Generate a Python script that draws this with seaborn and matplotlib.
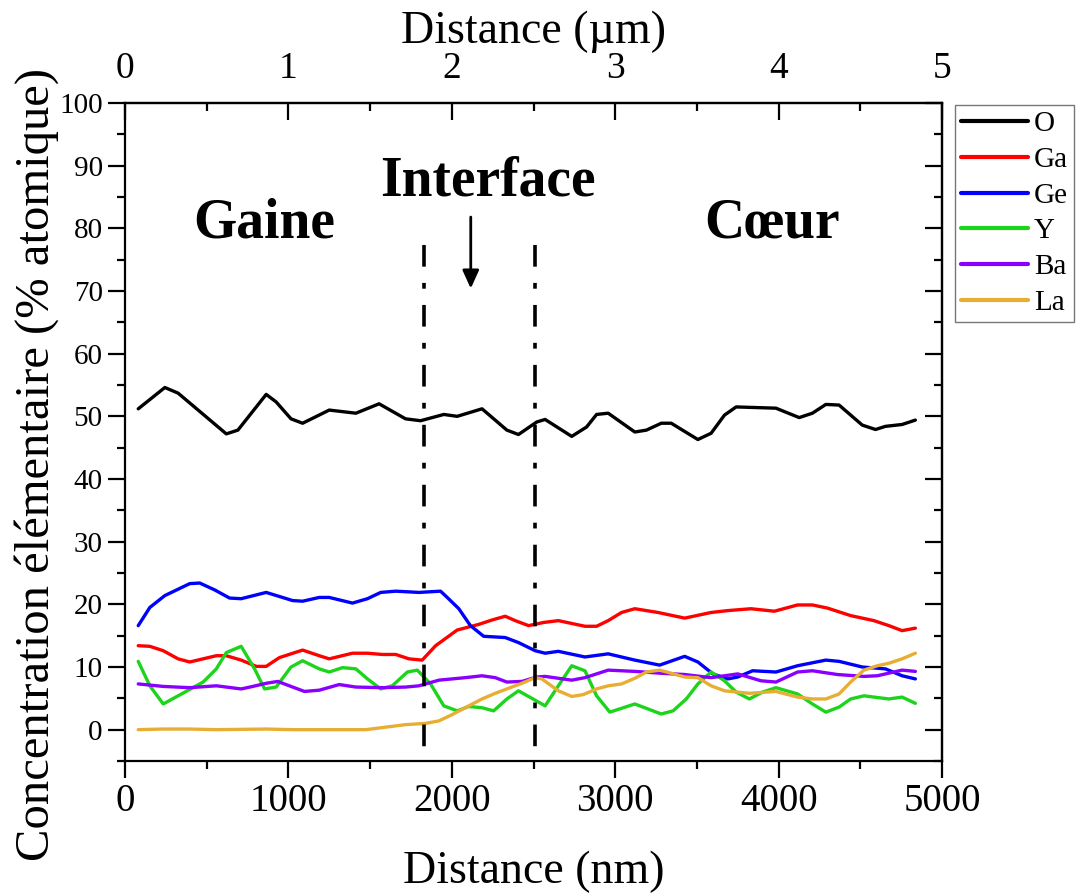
import pandas as pd
import seaborn as sns
import matplotlib.pyplot as plt
from matplotlib.ticker import MultipleLocator

# profil EDX le long de la ligne (distance en nm, concentration en % atomique)
elements = ["O", "Ga", "Ge", "Y", "Ba", "La"]

x_O = [81, 244, 325, 620, 691, 864, 925, 1016, 1087, 1250, 1413, 1555, 1717, 1809, 1951,
       2033, 2185, 2337, 2408, 2520, 2571, 2734, 2825, 2886, 2957, 3120, 3191, 3282, 3343,
       3506, 3587, 3669, 3740, 3984, 4126, 4207, 4289, 4370, 4512, 4593, 4654, 4756, 4837]
O = [51.2, 54.6, 53.7, 47.2, 47.8, 53.5, 52.3, 49.6, 48.9, 51.0, 50.5, 52.0, 49.6, 49.3, 50.3,
     50.0, 51.2, 47.8, 47.1, 49.1, 49.5, 46.8, 48.3, 50.3, 50.5, 47.5, 47.8, 48.9, 48.9,
     46.3, 47.3, 50.2, 51.5, 51.3, 49.8, 50.5, 51.9, 51.8, 48.6, 47.9, 48.4, 48.7, 49.4]

x_Ga = [81, 152, 234, 325, 396, 559, 620, 711, 803, 864, 945, 1087, 1189, 1250, 1392, 1484,
        1575, 1657, 1738, 1819, 1901, 2033, 2165, 2246, 2327, 2388, 2470, 2560, 2652, 2815,
        2886, 2957, 3039, 3120, 3262, 3425, 3587, 3689, 3831, 3974, 4116, 4207, 4299, 4441,
        4583, 4675, 4756, 4837]
Ga = [13.4, 13.3, 12.6, 11.3, 10.8, 11.8, 11.8, 11.1, 10.1, 10.1, 11.5, 12.7, 11.8, 11.3, 12.2, 12.2,
      12.0, 12.0, 11.3, 11.1, 13.4, 15.9, 16.8, 17.5, 18.1, 17.4, 16.6, 17.1, 17.4, 16.5,
      16.5, 17.4, 18.7, 19.3, 18.7, 17.8, 18.7, 19.0, 19.3, 18.9, 19.9, 19.9, 19.4, 18.2,
      17.4, 16.6, 15.8, 16.2]

x_Ge = [81, 152, 244, 396, 457, 549, 640, 711, 864, 1026, 1087, 1189, 1250, 1392, 1484, 1565,
        1657, 1799, 1931, 1972, 2043, 2114, 2195, 2327, 2408, 2510, 2571, 2652, 2815, 2957,
        3120, 3272, 3425, 3506, 3598, 3689, 3750, 3841, 3984, 4116, 4289, 4370, 4512, 4654,
        4756, 4837]
Ge = [16.6, 19.5, 21.4, 23.3, 23.4, 22.3, 21.0, 20.9, 21.9, 20.6, 20.5, 21.1, 21.1, 20.2, 20.9, 21.9,
      22.1, 21.9, 22.1, 21.1, 19.3, 16.6, 14.9, 14.7, 13.9, 12.6, 12.2, 12.5, 11.6, 12.1,
      11.1, 10.3, 11.7, 10.8, 8.9, 8.1, 8.4, 9.4, 9.2, 10.2, 11.1, 10.9, 10.0, 9.7,
      8.6, 8.1]

x_Y = [81, 152, 234, 325, 478, 559, 620, 711, 793, 854, 925, 1016, 1087, 1189, 1250, 1331,
       1413, 1484, 1565, 1636, 1728, 1789, 1870, 1951, 2033, 2104, 2185, 2256, 2337, 2408,
       2490, 2571, 2652, 2734, 2815, 2886, 2967, 3120, 3282, 3354, 3435, 3506, 3587, 3669,
       3740, 3821, 3902, 3984, 4116, 4207, 4289, 4370, 4441, 4522, 4675, 4756, 4837]
Y = [10.9, 7.0, 4.1, 5.4, 7.6, 9.7, 12.3, 13.3, 9.7, 6.5, 6.8, 10.0, 11.0, 9.7, 9.2, 9.9,
     9.7, 8.1, 6.5, 7.0, 9.2, 9.5, 7.3, 3.8, 3.0, 3.7, 3.5, 3.0, 4.9, 6.2,
     5.0, 3.8, 7.0, 10.2, 9.4, 5.4, 2.8, 4.1, 2.5, 3.0, 4.9, 7.3, 9.2, 7.8,
     6.0, 4.9, 6.0, 6.7, 5.7, 4.1, 2.8, 3.6, 4.9, 5.4, 4.9, 5.2, 4.2]

x_Ba = [81, 234, 396, 559, 711, 782, 864, 935, 1026, 1098, 1189, 1311, 1413, 1575, 1718, 1799,
        1921, 2083, 2185, 2266, 2337, 2429, 2520, 2571, 2734, 2815, 2957, 3120, 3282, 3425,
        3587, 3750, 3892, 3984, 4116, 4207, 4360, 4522, 4604, 4756, 4837]
Ba = [7.3, 6.9, 6.7, 7.0, 6.5, 6.9, 7.4, 7.7, 6.8, 6.1, 6.3, 7.2, 6.8, 6.7, 6.8, 7.0,
      7.9, 8.3, 8.6, 8.3, 7.6, 7.7, 8.4, 8.5, 7.9, 8.3, 9.5, 9.3, 9.0, 8.8,
      8.3, 8.9, 7.8, 7.6, 9.2, 9.4, 8.8, 8.5, 8.6, 9.5, 9.3]

x_La = [81, 234, 396, 559, 864, 1026, 1474, 1595, 1717, 1840, 1921, 2002, 2104, 2185, 2266, 2337,
        2429, 2510, 2551, 2652, 2734, 2805, 2886, 2957, 3039, 3120, 3191, 3272, 3343, 3425,
        3506, 3587, 3669, 3821, 3984, 4116, 4207, 4289, 4370, 4441, 4522, 4604, 4675, 4756,
        4837]
La = [0.0, 0.1, 0.1, 0.0, 0.1, 0.0, 0.0, 0.4, 0.8, 1.0, 1.4, 2.4, 3.8, 4.9, 5.8, 6.5,
      7.4, 8.3, 8.1, 6.2, 5.3, 5.6, 6.5, 7.0, 7.3, 8.2, 9.2, 9.5, 9.0, 8.4,
      8.3, 7.0, 6.2, 5.8, 6.1, 5.2, 4.9, 4.9, 5.7, 7.6, 9.5, 10.2, 10.6, 11.3,
      12.2]

# limites de l'interface (nm) et position de la fleche
interface_bounds = [1830, 2510]
arrow_x = 2116

colors = {"O": "black", "Ga": "#FF0000", "Ge": "#0000FF", "Y": "#1CD41C",
          "Ba": "#8A00FF", "La": "#E8AE34"}

series = {"O": (x_O, O), "Ga": (x_Ga, Ga), "Ge": (x_Ge, Ge),
          "Y": (x_Y, Y), "Ba": (x_Ba, Ba), "La": (x_La, La)}
frames = []
for el in elements:
    xs, ys = series[el]
    frames.append(pd.DataFrame({"distance": xs, "conc": ys, "element": el}))
df = pd.concat(frames, ignore_index=True)

sns.set_style("ticks")
plt.rcParams['font.family'] = ['Liberation Serif', 'DejaVu Serif']
plt.rcParams.update({"text.color": "black", "axes.labelcolor": "black",
                     "xtick.color": "black", "ytick.color": "black",
                     "axes.edgecolor": "black"})

fig = plt.figure(figsize=(10.76, 8.93), dpi=100)
ax = fig.add_axes([125 / 1076, 1 - 761 / 893, 817 / 1076, 658 / 893])

sns.lineplot(data=df, x="distance", y="conc", hue="element", hue_order=elements,
             palette=colors, estimator=None, sort=False, linewidth=2.4, ax=ax)

ax.set_xlim(0, 5000)
ax.set_ylim(-5, 100)
ax.xaxis.set_major_locator(MultipleLocator(1000))
ax.xaxis.set_minor_locator(MultipleLocator(500))
ax.yaxis.set_major_locator(MultipleLocator(10))
ax.yaxis.set_minor_locator(MultipleLocator(5))
ax.tick_params(which="major", direction="out", length=12, width=1.6, pad=4)
ax.tick_params(which="minor", direction="out", length=6, width=1.6)
ax.tick_params(axis="x", labelsize=28)
ax.tick_params(axis="y", labelsize=21)
for sp in ax.spines.values():
    sp.set_linewidth(1.6)

ax.set_xlabel("Distance (nm)", fontsize=33, labelpad=22)
ax.set_ylabel("Concentration élémentaire (% atomique)", fontsize=35)
ax.yaxis.label.set_va("center")
ax.yaxis.set_label_coords(-0.108, 0.45)

# axe du haut en micrometres
top = ax.secondary_xaxis("top", functions=(lambda v: v / 1000, lambda v: v * 1000))
top.xaxis.set_major_locator(MultipleLocator(1))
top.xaxis.set_minor_locator(MultipleLocator(0.5))
top.tick_params(which="major", direction="in", length=12, width=1.6, labelsize=27, pad=12)
top.tick_params(which="minor", direction="in", length=6, width=1.6)
top.spines["top"].set_linewidth(1.6)
top.set_xlabel("Distance (µm)", fontsize=33, labelpad=6)

right = ax.secondary_yaxis("right")
right.yaxis.set_major_locator(MultipleLocator(10))
right.yaxis.set_minor_locator(MultipleLocator(5))
right.tick_params(which="major", direction="in", length=12, width=1.6, labelright=False)
right.tick_params(which="minor", direction="in", length=6, width=1.6)
right.spines["right"].set_linewidth(1.6)

# interface (trace du haut vers le bas pour commencer par un tiret)
ax.vlines(interface_bounds, 77.4, -5, colors="black", linewidth=2.6,
          linestyles=[(0, (6, 4.5, 1.6, 4.5))])
ax.annotate("", xy=(arrow_x, 70.4), xytext=(arrow_x, 81.8),
            arrowprops=dict(arrowstyle="-|>,head_length=0.55,head_width=0.25",
                            lw=2, color="black", mutation_scale=20, shrinkA=0, shrinkB=0))
ax.text(851, 78.6, "Gaine", fontsize=40, fontweight="bold", ha="center", va="baseline")
ax.text(2220, 85.3, "Interface", fontsize=40, fontweight="bold", ha="center", va="baseline")
ax.text(3960, 78.6, "Cœur", fontsize=40, fontweight="bold", ha="center", va="baseline")

handles, labels = ax.get_legend_handles_labels()
leg = ax.legend(handles, labels, loc="upper left", bbox_to_anchor=(955 / 1076, 1 - 105 / 893),
                bbox_transform=fig.transFigure, fontsize=21, frameon=True, fancybox=False,
                handlelength=2.3, handletextpad=0.2, labelspacing=0.32, borderpad=0.2,
                borderaxespad=0)
leg.get_frame().set_edgecolor("#555555")
leg.get_frame().set_linewidth(1.0)
for ln in leg.get_lines():
    ln.set_linewidth(3)

fig.savefig("out.png", dpi=100)
